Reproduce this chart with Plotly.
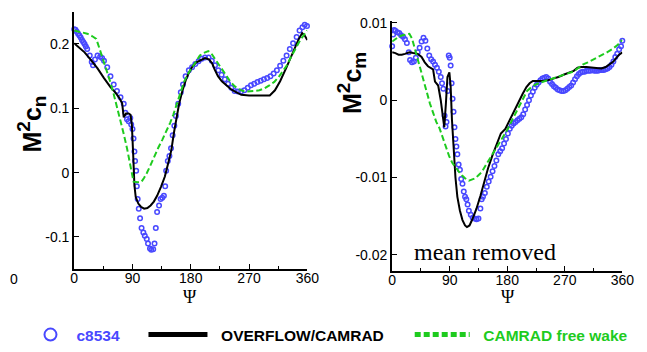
import plotly.graph_objects as go

W, H = 647, 352

# ---- normal force, M^2 c_n ----
cn_meas_psi = [0, 2, 4, 6, 8, 10, 12, 14, 16, 18, 20, 24, 27, 29, 32, 36, 40, 43, 46, 51, 56, 61, 66, 71.5,
               76.5, 79, 81.5, 84, 86.6, 88, 90, 91.6, 93, 94, 95.7, 96.7, 98, 99.7, 101.7, 104, 106.8, 109,
               112, 114, 117, 119, 122, 124, 126, 128, 131, 133.5, 136, 138.5, 140.5, 142, 144.5, 147, 149.5,
               152, 154.6, 157, 160.6, 164.6, 168, 172, 177, 182, 187, 192, 197, 202, 207.5, 212.5, 217.5,
               222.6, 227.6, 232.6, 237.6, 242.7, 247.7, 252.8, 257.8, 262.8, 268, 273, 278, 283, 288, 293,
               298, 303, 308, 313, 318, 323, 328, 333, 338, 343.5, 348, 352.5, 356, 359.5]
cn_meas_val = [0.223, 0.222, 0.219, 0.216, 0.213, 0.210, 0.206, 0.203, 0.200, 0.196, 0.192, 0.182, 0.172, 0.167,
               0.176, 0.182, 0.180, 0.178, 0.174, 0.164, 0.150, 0.137, 0.127, 0.117, 0.107, 0.093, 0.083, 0.080,
               0.085, 0.075, 0.068, 0.053, 0.033, 0.018, 0.003, -0.021, -0.041, -0.056, -0.071, -0.086, -0.093,
               -0.098, -0.103, -0.110, -0.118, -0.120, -0.119, -0.110, -0.086, -0.061, -0.051, -0.041, -0.039,
               -0.036, -0.021, 0.003, 0.018, 0.026, 0.038, 0.058, 0.073, 0.088, 0.107, 0.125, 0.137, 0.150,
               0.159, 0.164, 0.169, 0.173, 0.177, 0.179, 0.179, 0.174, 0.167, 0.159, 0.152, 0.145, 0.138, 0.132,
               0.127, 0.126, 0.126, 0.128, 0.132, 0.136, 0.138, 0.141, 0.143, 0.145, 0.147, 0.150, 0.154, 0.159,
               0.166, 0.174, 0.182, 0.192, 0.201, 0.211, 0.221, 0.226, 0.230, 0.228]

cn_ovf_psi = [0, 8, 16, 26, 36, 46, 56, 64, 69, 74, 76.5, 80, 84, 87, 89, 91, 93, 95, 99, 103, 108, 113, 118,
              123, 128, 134, 140, 146, 150, 154, 158, 162, 167, 172, 177, 182, 188, 195, 202, 208, 213, 217,
              222, 228, 235, 243, 250, 258, 270, 290, 302, 310, 318, 328, 338, 346, 352, 356, 360]
cn_ovf_val = [0.201, 0.194, 0.187, 0.175, 0.162, 0.147, 0.133, 0.124, 0.117, 0.108, 0.086, 0.092, 0.092, 0.090,
              0.075, 0.030, -0.020, -0.038, -0.048, -0.053, -0.056, -0.055, -0.051, -0.045, -0.036, -0.022,
              -0.006, 0.018, 0.035, 0.062, 0.088, 0.107, 0.127, 0.143, 0.155, 0.164, 0.171, 0.175, 0.178, 0.176,
              0.170, 0.160, 0.150, 0.142, 0.136, 0.129, 0.125, 0.121, 0.120, 0.120, 0.120, 0.128, 0.142, 0.164,
              0.188, 0.206, 0.217, 0.213, 0.206]

cn_fw_psi = [0, 10, 20, 28, 34, 38, 41, 46, 51, 56, 61, 66, 71.5, 76, 81.5, 86, 89, 91.6, 98, 104, 108, 112,
             118, 124, 130, 136, 142, 148, 153, 157, 162, 166, 170, 176, 182, 188, 194, 200, 207, 212, 218, 225,
             232, 240, 248, 256, 263, 270, 278, 286, 294, 302, 309, 316, 322, 328, 336, 342, 348, 354, 358, 360]
cn_fw_val = [0.221, 0.219, 0.216, 0.212, 0.208, 0.196, 0.187, 0.172, 0.157, 0.140, 0.122, 0.103, 0.083, 0.062,
             0.038, 0.012, -0.004, -0.014, -0.015, -0.014, -0.008, -0.001, 0.012, 0.026, 0.039, 0.051, 0.063,
             0.077, 0.090, 0.102, 0.118, 0.131, 0.142, 0.154, 0.164, 0.174, 0.182, 0.186, 0.189, 0.185, 0.176,
             0.164, 0.154, 0.143, 0.134, 0.129, 0.126, 0.126, 0.127, 0.128, 0.131, 0.136, 0.141, 0.149, 0.157,
             0.166, 0.182, 0.194, 0.204, 0.213, 0.219, 0.221]

# ---- pitching moment, M^2 c_m (mean removed) ----
cm_meas_psi = [0, 1.5, 3, 5, 8, 11, 14, 17, 20, 23, 26, 28, 31, 34, 37, 40, 43, 46, 49, 52, 55, 58, 61, 64, 67,
               70, 73, 76, 78, 80, 82, 83.5, 85, 87, 88.5, 90, 91.5, 93, 94.5, 96, 97.5, 99, 100.5, 102, 104,
               106, 108, 110, 112, 114, 116, 118, 120, 123, 126, 129, 132, 135, 138, 140, 142, 145, 148, 151,
               154, 157, 160, 163, 166, 169, 172, 175, 178, 181, 184, 187, 190, 193, 196, 199, 202, 205, 208,
               211, 214, 217, 220, 223, 226, 229, 232, 235, 238, 241, 244, 247, 250, 253, 256, 259, 262, 265,
               268, 271, 274, 277, 280, 283, 286, 289, 292, 295, 298, 301, 304, 307, 310, 313, 316, 319, 322,
               325, 328, 331, 334, 337, 340, 343, 346, 349, 352, 355, 358, 360]
cm_meas_val = [0.0070, 0.0085, 0.0091, 0.0090, 0.0088, 0.0087, 0.0084, 0.0082, 0.0079, 0.0074, 0.0062, 0.0052,
               0.0049, 0.0050, 0.0055, 0.0062, 0.0068, 0.0076, 0.0081, 0.0077, 0.0067, 0.0058, 0.0053, 0.0050,
               0.0046, 0.0042, 0.0037, 0.0030, 0.0022, 0.0015, -0.0020, -0.0034, -0.0028, 0.0012, 0.0058,
               0.0055, 0.0045, 0.0022, 0.0002, -0.0015, -0.0035, -0.0050, -0.0060, -0.0070, -0.0083, -0.0090,
               -0.0102, -0.0108, -0.0118, -0.0125, -0.0128, -0.0135, -0.0143, -0.0148, -0.0152, -0.0153,
               -0.0154, -0.0153, -0.0140, -0.0128, -0.0125, -0.0120, -0.0112, -0.0105, -0.0099, -0.0092,
               -0.0085, -0.0078, -0.0070, -0.0066, -0.0062, -0.0056, -0.0050, -0.0043, -0.0037, -0.0033,
               -0.0030, -0.0028, -0.0026, -0.0024, -0.0022, -0.0018, -0.0012, -0.0006, 0.0000, 0.0006, 0.0011,
               0.0016, 0.0020, 0.0023, 0.0026, 0.0028, 0.0029, 0.0030, 0.0028, 0.0024, 0.0021, 0.0018, 0.0016,
               0.0014, 0.0013, 0.0012, 0.0012, 0.0013, 0.0015, 0.0017, 0.0019, 0.0023, 0.0027, 0.0031, 0.0034,
               0.0036, 0.0037, 0.0037, 0.0038, 0.0038, 0.0038, 0.0039, 0.0038, 0.0038, 0.0038, 0.0039, 0.0039,
               0.0039, 0.0040, 0.0041, 0.0043, 0.0046, 0.0050, 0.0056, 0.0060, 0.0066, 0.0070, 0.0077]

cm_ovf_psi = [0, 5, 10, 15, 20, 27, 33, 40, 46, 51, 56, 61, 64, 67, 72, 76, 79, 81.5, 84, 86.5, 89.5, 91.5,
              93.5, 96, 99, 102, 106, 110, 114, 117, 121, 126, 132, 138, 144, 150, 157, 163, 170, 177, 184,
              191, 198, 204, 210, 215, 220, 228, 236, 244, 252, 260, 268, 276, 284, 290, 296, 304, 312, 320,
              327, 334, 340, 346, 351, 355, 360]
cm_ovf_val = [0.0062, 0.0061, 0.0059, 0.0059, 0.0060, 0.0062, 0.0061, 0.0060, 0.0056, 0.0049, 0.0044, 0.0042,
              0.0040, 0.0024, 0.0019, 0.0000, -0.0022, -0.0035, -0.0005, 0.0030, 0.0036, 0.0018, -0.0025,
              -0.0060, -0.0100, -0.0125, -0.0143, -0.0155, -0.0162, -0.0164, -0.0162, -0.0153, -0.0140,
              -0.0124, -0.0105, -0.0088, -0.0071, -0.0058, -0.0043, -0.0037, -0.0025, -0.0014, -0.0001, 0.0008,
              0.0017, 0.0022, 0.0025, 0.0025, 0.0025, 0.0026, 0.0028, 0.0030, 0.0033, 0.0035, 0.0038, 0.0042,
              0.0043, 0.0043, 0.0042, 0.0041, 0.0041, 0.0043, 0.0046, 0.0050, 0.0055, 0.0059, 0.0062]

cm_fw_psi = [0, 5, 10, 16, 22, 27, 31, 35, 39, 44, 49, 54, 59, 64, 69, 74, 79, 84, 89, 94, 99, 104, 109, 114,
             120, 125, 130, 135, 140, 145, 150, 157, 165, 173, 181, 188, 196, 203, 211, 218, 226, 236, 247, 257,
             267, 275, 283, 290, 298, 306, 313, 320, 328, 336, 344, 352, 360]
cm_fw_val = [0.0076, 0.0079, 0.0082, 0.0084, 0.0085, 0.0086, 0.0080, 0.0068, 0.0055, 0.0040, 0.0025, 0.0010,
             -0.0004, -0.0016, -0.0028, -0.0036, -0.0048, -0.0060, -0.0072, -0.0081, -0.0087, -0.0092, -0.0097,
             -0.0101, -0.0104, -0.0103, -0.0101, -0.0097, -0.0093, -0.0086, -0.0079, -0.0069, -0.0058, -0.0047,
             -0.0037, -0.0025, -0.0012, 0.0000, 0.0012, 0.0017, 0.0021, 0.0024, 0.0027, 0.0030, 0.0033, 0.0035,
             0.0037, 0.0041, 0.0046, 0.0049, 0.0052, 0.0055, 0.0058, 0.0062, 0.0066, 0.0071, 0.0078]

psi_ticks = [0, 90, 180, 270, 360]
psi_minor = [45, 135, 225, 315]
cn_ticks = [-0.1, 0, 0.1, 0.2]
cn_ticktext = ["-0.1", "0", "0.1", "0.2"]
cm_ticks = [-0.02, -0.01, 0, 0.01]
cm_ticktext = ["-0.02", "-0.01", "0", "0.01"]

BLUE = "#4848ff"
GREEN = "#1ecb1e"
NB = "\u00a0"
SANS = "Liberation Sans, Arial, sans-serif"
SERIF = "Liberation Serif, Times New Roman, serif"

fig = go.Figure()

meas_style = dict(mode="markers", cliponaxis=False,
                  marker=dict(symbol="circle-open", size=4.5, color=BLUE, line=dict(width=1.5)))
ovf_style = dict(mode="lines", line=dict(color="black", width=2))
fw_style = dict(mode="lines", line=dict(color=GREEN, width=2, dash="6px,3px"))

fig.add_trace(go.Scatter(x=cn_meas_psi, y=cn_meas_val, name="c8534", legend="legend",
                         xaxis="x", yaxis="y", **meas_style))
fig.add_trace(go.Scatter(x=cn_ovf_psi, y=cn_ovf_val, name=NB * 2 + "OVERFLOW/CAMRAD", legend="legend2",
                         xaxis="x", yaxis="y", **ovf_style))
fig.add_trace(go.Scatter(x=cn_fw_psi, y=cn_fw_val, name=NB * 2 + "CAMRAD free wake", legend="legend3",
                         xaxis="x", yaxis="y", **fw_style))

fig.add_trace(go.Scatter(x=cm_meas_psi, y=cm_meas_val, showlegend=False,
                         xaxis="x2", yaxis="y2", **meas_style))
fig.add_trace(go.Scatter(x=cm_ovf_psi, y=cm_ovf_val, showlegend=False,
                         xaxis="x2", yaxis="y2", **ovf_style))
fig.add_trace(go.Scatter(x=cm_fw_psi, y=cm_fw_val, showlegend=False,
                         xaxis="x2", yaxis="y2", **fw_style))

tick_font = dict(family=SANS, size=14, color="black")

def xax(domain, anchor):
    return dict(domain=domain, anchor=anchor, range=[0, 360], tickvals=psi_ticks,
                ticks="inside", ticklen=5, tickwidth=1, tickcolor="black", ticklabelstandoff=-5,
                showline=True, linewidth=2, linecolor="black", showgrid=False, zeroline=False,
                tickfont=tick_font,
                minor=dict(tickvals=psi_minor, ticks="inside", ticklen=3, tickwidth=1, tickcolor="black"))

def yax(domain, anchor, rng, vals, text):
    return dict(domain=domain, anchor=anchor, range=rng, tickvals=vals, ticktext=text,
                ticks="inside", ticklen=5, tickwidth=1, tickcolor="black",
                showline=True, linewidth=2, linecolor="black", showgrid=False, zeroline=False,
                tickfont=tick_font)

def px_x(p):
    return p / W

def px_y(p):
    return 1 - p / H

legend_common = dict(orientation="h", yanchor="middle", xanchor="left", y=px_y(342),
                     bgcolor="rgba(0,0,0,0)", borderwidth=0, itemsizing="constant",
                     tracegroupgap=0)

def legend_font(color):
    return dict(family=SANS, size=15.5, color=color, weight="bold")

title_font = dict(family=SANS, size=25, color="black", weight="bold")
psi_font = dict(family=SERIF, size=18, color="black")

def ytitle(sub):
    return ("M<sup><span style='font-size:19px'>2</span></sup>c"
            "<sub><span style='font-size:19px'>" + sub + "</span></sub>")

fig.update_layout(
    width=W, height=H,
    margin=dict(l=0, r=0, t=0, b=0),
    paper_bgcolor="white", plot_bgcolor="white",
    xaxis=xax([px_x(72), px_x(311)], "y"),
    yaxis=yax([px_y(273), px_y(5)], "x", [-0.15, 0.25], cn_ticks, cn_ticktext),
    xaxis2=xax([px_x(398), px_x(634)], "y2"),
    yaxis2=yax([px_y(275), px_y(15)], "x2", [-0.0221, 0.0102], cm_ticks, cm_ticktext),
    legend=dict(x=px_x(21), itemwidth=42, font=legend_font(BLUE), **legend_common),
    legend2=dict(x=px_x(143), itemwidth=59, font=legend_font("black"), **legend_common),
    legend3=dict(x=px_x(416), itemwidth=55, font=legend_font(GREEN), **legend_common),
    annotations=[
        dict(text=ytitle("n"), x=px_x(28), y=px_y(122), xref="paper", yref="paper",
             textangle=-90, showarrow=False, font=title_font, xanchor="center", yanchor="middle"),
        dict(text=ytitle("m"), x=px_x(357), y=px_y(79), xref="paper", yref="paper",
             textangle=-90, showarrow=False, font=title_font, xanchor="center", yanchor="middle"),
        dict(text="Ψ", x=px_x(191), y=px_y(302), xref="paper", yref="paper", showarrow=False,
             font=psi_font, xanchor="center", yanchor="middle"),
        dict(text="Ψ", x=px_x(517), y=px_y(302), xref="paper", yref="paper", showarrow=False,
             font=psi_font, xanchor="center", yanchor="middle"),
        dict(text="mean removed", x=px_x(418), y=px_y(255), xref="paper", yref="paper", showarrow=False,
             font=dict(family=SERIF, size=24, color="black"), xanchor="left", yanchor="middle"),
        dict(text="0", x=px_x(10), y=px_y(283), xref="paper", yref="paper", showarrow=False,
             font=tick_font, xanchor="center", yanchor="middle"),
    ],
)

fig.write_html("out.html")
